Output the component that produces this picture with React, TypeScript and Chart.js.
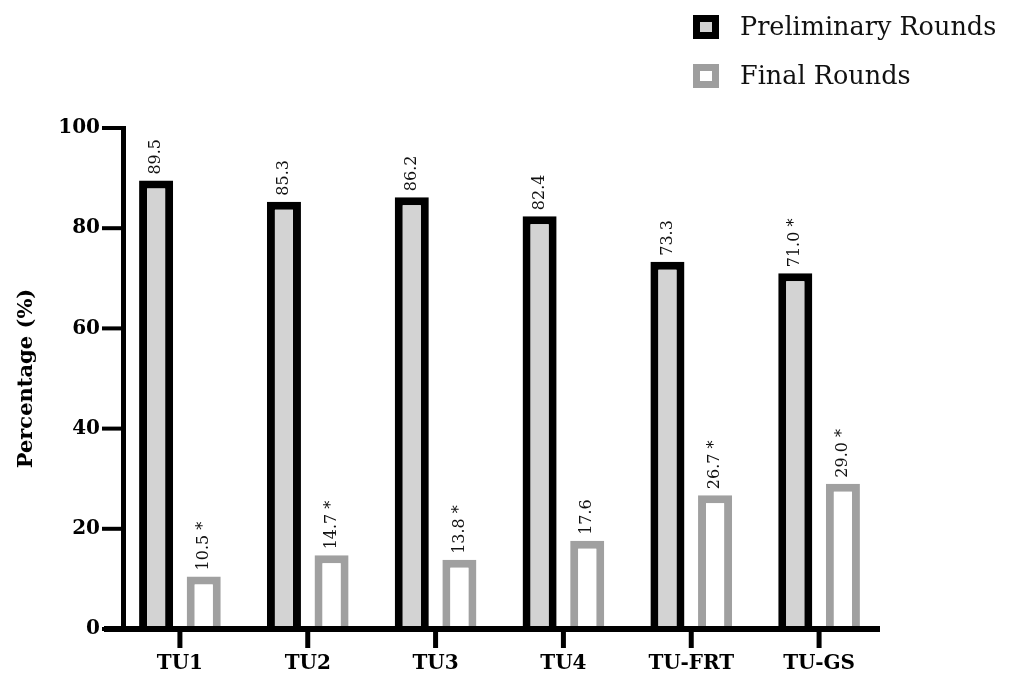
import React, { useEffect, useRef } from "react";
import { Chart, registerables } from "chart.js";

Chart.register(...registerables);

const categories = ["TU1", "TU2", "TU3", "TU4", "TU-FRT", "TU-GS"];
const seriesNames = ["Preliminary Rounds", "Final Rounds"];
const preliminary = [89.5, 85.3, 86.2, 82.4, 73.3, 71.0];
const finalRounds = [10.5, 14.7, 13.8, 17.6, 26.7, 29.0];
const preliminaryLabels = ["89.5", "85.3", "86.2", "82.4", "73.3", "71.0 *"];
const finalLabels = ["10.5 *", "14.7 *", "13.8 *", "17.6", "26.7 *", "29.0 *"];
const yTicks = [0, 20, 40, 60, 80, 100];

const SERIF = "'DejaVu Serif', 'Liberation Serif', serif";

const labelPlugin = {
  id: "barLabels",
  afterDatasetsDraw(chart: any) {
    const ctx = chart.ctx;
    const labelSets = [preliminaryLabels, finalLabels];
    chart.data.datasets.forEach((_ds: any, di: number) => {
      const meta = chart.getDatasetMeta(di);
      meta.data.forEach((bar: any, i: number) => {
        ctx.save();
        ctx.translate(bar.x, bar.y - 6);
        ctx.rotate(-Math.PI / 2);
        ctx.font = `16px ${SERIF}`;
        ctx.fillStyle = "#111";
        ctx.textAlign = "left";
        ctx.textBaseline = "middle";
        ctx.fillText(labelSets[di][i], 0, 0);
        ctx.restore();
      });
    });
  },
};

const axesPlugin = {
  id: "axesLines",
  afterDatasetsDraw(chart: any) {
    const ctx = chart.ctx;
    const x = chart.scales.x;
    const y = chart.scales.y;
    const a = chart.chartArea;
    const yAxisX = a.left + 7.5;
    const base = y.getPixelForValue(0);
    ctx.save();
    ctx.strokeStyle = "#000";
    ctx.lineCap = "butt";
    ctx.lineWidth = 5;
    ctx.beginPath();
    ctx.moveTo(yAxisX, y.getPixelForValue(100) - 2);
    ctx.lineTo(yAxisX, base);
    ctx.stroke();
    ctx.lineWidth = 4;
    yTicks.forEach((v) => {
      const py = y.getPixelForValue(v);
      ctx.beginPath();
      ctx.moveTo(a.left - 14, py);
      ctx.lineTo(yAxisX, py);
      ctx.stroke();
    });
    ctx.lineWidth = 6;
    ctx.beginPath();
    ctx.moveTo(a.left - 12, base);
    ctx.lineTo(a.right - 3, base);
    ctx.stroke();
    ctx.lineWidth = 5;
    categories.forEach((_c, i) => {
      const px = x.getPixelForValue(i);
      ctx.beginPath();
      ctx.moveTo(px, base);
      ctx.lineTo(px, base + 19);
      ctx.stroke();
    });
    ctx.restore();
  },
};

const legendPlugin = {
  id: "customLegend",
  afterDraw(chart: any) {
    const ctx = chart.ctx;
    const rows = [
      { y: 27, border: "#000", fill: "#d3d3d3" },
      { y: 76, border: "#9e9e9e", fill: "#ffffff" },
    ];
    rows.forEach((r, i) => {
      ctx.save();
      ctx.fillStyle = r.border;
      ctx.fillRect(693, r.y - 12, 26, 24);
      ctx.fillStyle = r.fill;
      ctx.fillRect(700, r.y - 5, 12, 10);
      ctx.font = `25.5px ${SERIF}`;
      ctx.fillStyle = "#111";
      ctx.textAlign = "left";
      ctx.textBaseline = "middle";
      ctx.fillText(chart.data.datasets[i].label, 740, r.y + 1);
      ctx.restore();
    });
  },
};

export default function App() {
  const ref = useRef<HTMLCanvasElement | null>(null);
  useEffect(() => {
    document.body.style.margin = "0";
    const chart = new Chart(ref.current as HTMLCanvasElement, {
      type: "bar",
      data: {
        labels: categories,
        datasets: [
          {
            label: seriesNames[0],
            data: preliminary,
            backgroundColor: "#d3d3d3",
            borderColor: "#000",
            borderWidth: 8,
            categoryPercentage: 0.745,
            barPercentage: 0.715,
          },
          {
            label: seriesNames[1],
            data: finalRounds,
            backgroundColor: "#ffffff",
            borderColor: "#a0a0a0",
            borderWidth: 8,
            categoryPercentage: 0.745,
            barPercentage: 0.715,
          },
        ],
      },
      options: {
        animation: false,
        responsive: false,
        layout: { padding: { top: 128, right: 131, left: 0, bottom: 0 } },
        plugins: { legend: { display: false }, tooltip: { enabled: false } },
        scales: {
          x: {
            grid: { display: false, drawTicks: false },
            border: { display: false },
            ticks: {
              color: "#000",
              font: { family: SERIF, size: 20, weight: "bold" },
              padding: 23,
            },
            afterFit(s: any) {
              s.height = 57;
            },
          },
          y: {
            min: 0,
            max: 100,
            afterBuildTicks(s: any) {
              s.ticks = yTicks.map((v) => ({ value: v }));
            },
            grid: { display: false, drawTicks: false },
            border: { display: false },
            ticks: {
              color: "#000",
              font: { family: SERIF, size: 20, weight: "bold" },
              padding: 16,
            },
            title: {
              display: true,
              text: "Percentage (%)",
              color: "#000",
              font: { family: SERIF, size: 21, weight: "bold" },
              padding: { top: 14, bottom: 0 },
            },
            afterFit(s: any) {
              s.width = 116;
            },
          },
        },
      },
      plugins: [labelPlugin, axesPlugin, legendPlugin],
    } as any);
    return () => chart.destroy();
  }, []);
  return <canvas ref={ref} width={1014} height={686} style={{ display: "block" }} />;
}
